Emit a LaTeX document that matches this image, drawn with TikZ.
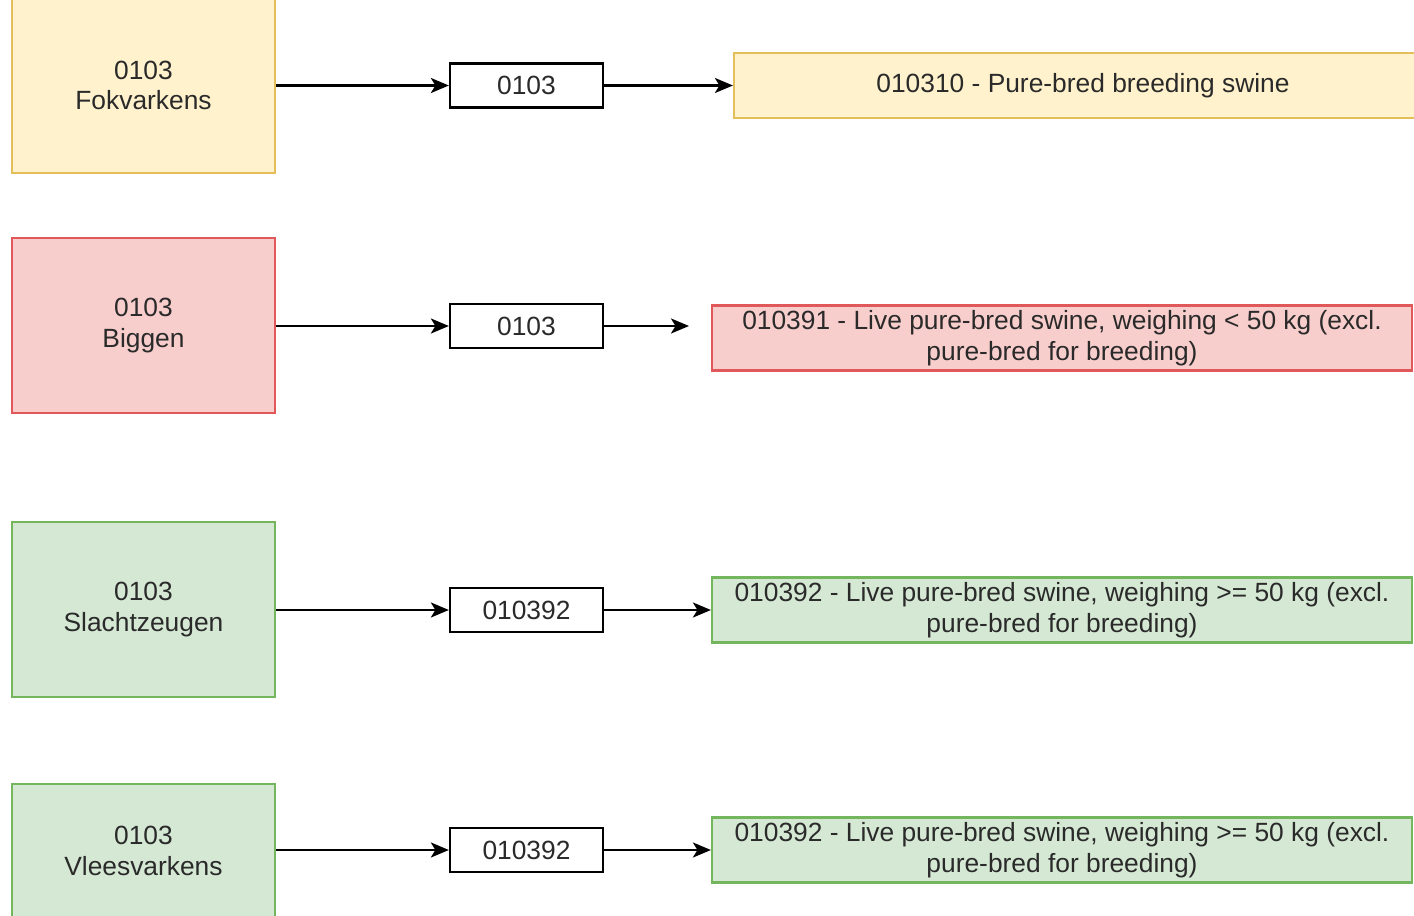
\documentclass[tikz,border=0pt]{standalone}
\usepackage{fontspec}
\setmainfont{Liberation Sans}
\usepackage{xcolor}
\usepackage{tikz}
\usetikzlibrary{arrows.meta}

\definecolor{yelfill}{HTML}{FFF2CC}
\definecolor{yeldraw}{HTML}{E3BE5A}
\definecolor{redfill}{HTML}{F8CECC}
\definecolor{reddraw}{HTML}{E0585A}
\definecolor{grnfill}{HTML}{D5E8D4}
\definecolor{grndraw}{HTML}{74B65E}
\definecolor{txt}{HTML}{2A2A2A}

\begin{document}
\begin{tikzpicture}[x=0.02cm,y=-0.02cm,
	box/.style={draw,line width=1.3pt,align=center,inner sep=0pt,text=txt,
		font=\fontsize{15}{17.5}\selectfont},
	srcbox/.style={box,minimum width=5.26cm,minimum height=3.5cm},
	codebox/.style={box,draw=black,fill=white,minimum width=3.06cm,minimum height=0.88cm},
	descbox/.style={box,minimum width=14cm,minimum height=1.3cm},
	link/.style={line width=1.4pt,-{Stealth[length=0.36cm,width=0.3cm,inset=0.09cm]}}]
	\clip (0,0) rectangle (1414,916);
	\fill[white] (0,0) rectangle (1414,916);
	
	% row 1
	\node[srcbox,fill=yelfill,draw=yeldraw] (fok) at (143.5,85.5) {0103\\Fokvarkens};
	\node[codebox] (fokcode) at (526.5,85.5) {0103};
	\node[descbox,fill=yelfill,draw=yeldraw,minimum width=13.96cm] (fokdesc) at (1083,85.5)
		{010310 - Pure-bred breeding swine};
	\draw[link] (fok.east |- fokcode) -- (fokcode.west);
	\draw[link] (fokcode.east) -- (fokdesc.west);
	
	% row 2
	\node[srcbox,fill=redfill,draw=reddraw] (big) at (143.5,325.5) {0103\\Biggen};
	\node[codebox] (bigcode) at (526.5,326) {0103};
	\node[descbox,fill=redfill,draw=reddraw] (bigdesc) at (1062,338)
		{010391 - Live pure-bred swine, weighing < 50 kg (excl.\\pure-bred for breeding)};
	\coordinate (bigend) at (689,326);
	\draw[link] (big.east |- bigcode) -- (bigcode.west);
	\draw[link] (bigcode.east) -- (bigend);
	
	% row 3
	\node[srcbox,fill=grnfill,draw=grndraw] (sla) at (143.5,609.5) {0103\\Slachtzeugen};
	\node[codebox] (slacode) at (526.5,610) {010392};
	\node[descbox,fill=grnfill,draw=grndraw] (sladesc) at (1062,610)
		{010392 - Live pure-bred swine, weighing >= 50 kg (excl.\\pure-bred for breeding)};
	\draw[link] (sla.east |- slacode) -- (slacode.west);
	\draw[link] (slacode.east) -- (sladesc.west);
	
	% row 4
	\node[srcbox,fill=grnfill,draw=grndraw,minimum height=2.68cm] (vle) at (143.5,851) {0103\\Vleesvarkens};
	\node[codebox] (vlecode) at (526.5,850) {010392};
	\node[descbox,fill=grnfill,draw=grndraw] (vledesc) at (1062,850)
		{010392 - Live pure-bred swine, weighing >= 50 kg (excl.\\pure-bred for breeding)};
	\draw[link] (vle.east |- vlecode) -- (vlecode.west);
	\draw[link] (vlecode.east) -- (vledesc.west);
\end{tikzpicture}
\end{document}
